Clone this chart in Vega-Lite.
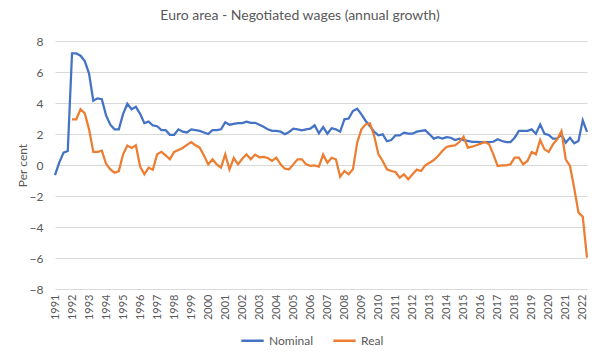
{
  "$schema": "https://vega.github.io/schema/vega-lite/v6.json",
  "width": 532,
  "height": 248,
  "autosize": {"type": "none"},
  "padding": {"left": 55, "top": 41, "right": 13, "bottom": 71},
  "background": "white",
  "config": {"view": {"stroke": null}, "font": "Lato"},
  "title": {"text": "Euro area - Negotiated wages (annual growth)", "fontSize": 14, "font": "Lato", "fontWeight": "normal", "color": "#595959", "anchor": "middle", "dx": -21, "offset": 12},
  "data": {"values": [
    {"t": 1991.00, "Nominal": -0.65},
    {"t": 1991.25, "Nominal": 0.15},
    {"t": 1991.50, "Nominal": 0.8},
    {"t": 1991.75, "Nominal": 0.9},
    {"t": 1992.00, "Nominal": 7.2, "Real": 2.95},
    {"t": 1992.25, "Nominal": 7.2, "Real": 2.95},
    {"t": 1992.50, "Nominal": 7.05, "Real": 3.6},
    {"t": 1992.75, "Nominal": 6.7, "Real": 3.33},
    {"t": 1993.00, "Nominal": 5.9, "Real": 2.3},
    {"t": 1993.25, "Nominal": 4.15, "Real": 0.84},
    {"t": 1993.50, "Nominal": 4.3, "Real": 0.84},
    {"t": 1993.75, "Nominal": 4.25, "Real": 0.93},
    {"t": 1994.00, "Nominal": 3.2, "Real": 0.08},
    {"t": 1994.25, "Nominal": 2.6, "Real": -0.28},
    {"t": 1994.50, "Nominal": 2.3, "Real": -0.5},
    {"t": 1994.75, "Nominal": 2.3, "Real": -0.39},
    {"t": 1995.00, "Nominal": 3.3, "Real": 0.69},
    {"t": 1995.25, "Nominal": 3.95, "Real": 1.25},
    {"t": 1995.50, "Nominal": 3.6, "Real": 1.1},
    {"t": 1995.75, "Nominal": 3.75, "Real": 1.27},
    {"t": 1996.00, "Nominal": 3.3, "Real": -0.1},
    {"t": 1996.25, "Nominal": 2.7, "Real": -0.6},
    {"t": 1996.50, "Nominal": 2.8, "Real": -0.17},
    {"t": 1996.75, "Nominal": 2.55, "Real": -0.3},
    {"t": 1997.00, "Nominal": 2.5, "Real": 0.7},
    {"t": 1997.25, "Nominal": 2.25, "Real": 0.85},
    {"t": 1997.50, "Nominal": 2.25, "Real": 0.62},
    {"t": 1997.75, "Nominal": 1.95, "Real": 0.37},
    {"t": 1998.00, "Nominal": 1.95, "Real": 0.84},
    {"t": 1998.25, "Nominal": 2.3, "Real": 0.97},
    {"t": 1998.50, "Nominal": 2.15, "Real": 1.1},
    {"t": 1998.75, "Nominal": 2.1, "Real": 1.3},
    {"t": 1999.00, "Nominal": 2.3, "Real": 1.48},
    {"t": 1999.25, "Nominal": 2.25, "Real": 1.27},
    {"t": 1999.50, "Nominal": 2.2, "Real": 1.12},
    {"t": 1999.75, "Nominal": 2.1, "Real": 0.62},
    {"t": 2000.00, "Nominal": 2.0, "Real": 0.04},
    {"t": 2000.25, "Nominal": 2.25, "Real": 0.37},
    {"t": 2000.50, "Nominal": 2.25, "Real": 0.04},
    {"t": 2000.75, "Nominal": 2.3, "Real": -0.17},
    {"t": 2001.00, "Nominal": 2.75, "Real": 0.69},
    {"t": 2001.25, "Nominal": 2.6, "Real": -0.28},
    {"t": 2001.50, "Nominal": 2.65, "Real": 0.45},
    {"t": 2001.75, "Nominal": 2.7, "Real": 0.04},
    {"t": 2002.00, "Nominal": 2.7, "Real": 0.4},
    {"t": 2002.25, "Nominal": 2.8, "Real": 0.69},
    {"t": 2002.50, "Nominal": 2.72, "Real": 0.37},
    {"t": 2002.75, "Nominal": 2.72, "Real": 0.67},
    {"t": 2003.00, "Nominal": 2.6, "Real": 0.5},
    {"t": 2003.25, "Nominal": 2.47, "Real": 0.52},
    {"t": 2003.50, "Nominal": 2.3, "Real": 0.45},
    {"t": 2003.75, "Nominal": 2.2, "Real": 0.26},
    {"t": 2004.00, "Nominal": 2.2, "Real": 0.47},
    {"t": 2004.25, "Nominal": 2.15, "Real": 0.04},
    {"t": 2004.50, "Nominal": 1.98, "Real": -0.24},
    {"t": 2004.75, "Nominal": 2.13, "Real": -0.28},
    {"t": 2005.00, "Nominal": 2.34, "Real": 0.04},
    {"t": 2005.25, "Nominal": 2.3, "Real": 0.37},
    {"t": 2005.50, "Nominal": 2.24, "Real": 0.37},
    {"t": 2005.75, "Nominal": 2.3, "Real": 0.04},
    {"t": 2006.00, "Nominal": 2.34, "Real": -0.06},
    {"t": 2006.25, "Nominal": 2.56, "Real": -0.02},
    {"t": 2006.50, "Nominal": 2.04, "Real": -0.11},
    {"t": 2006.75, "Nominal": 2.45, "Real": 0.67},
    {"t": 2007.00, "Nominal": 2.02, "Real": 0.15},
    {"t": 2007.25, "Nominal": 2.37, "Real": 0.47},
    {"t": 2007.50, "Nominal": 2.3, "Real": 0.37},
    {"t": 2007.75, "Nominal": 2.15, "Real": -0.75},
    {"t": 2008.00, "Nominal": 2.95, "Real": -0.39},
    {"t": 2008.25, "Nominal": 3.0, "Real": -0.6},
    {"t": 2008.50, "Nominal": 3.48, "Real": -0.28},
    {"t": 2008.75, "Nominal": 3.63, "Real": 1.44},
    {"t": 2009.00, "Nominal": 3.27, "Real": 2.3},
    {"t": 2009.25, "Nominal": 2.84, "Real": 2.62},
    {"t": 2009.50, "Nominal": 2.52, "Real": 2.69},
    {"t": 2009.75, "Nominal": 2.13, "Real": 1.87},
    {"t": 2010.00, "Nominal": 1.91, "Real": 0.69},
    {"t": 2010.25, "Nominal": 1.98, "Real": 0.26},
    {"t": 2010.50, "Nominal": 1.53, "Real": -0.28},
    {"t": 2010.75, "Nominal": 1.61, "Real": -0.39},
    {"t": 2011.00, "Nominal": 1.91, "Real": -0.45},
    {"t": 2011.25, "Nominal": 1.91, "Real": -0.82},
    {"t": 2011.50, "Nominal": 2.09, "Real": -0.6},
    {"t": 2011.75, "Nominal": 2.02, "Real": -0.92},
    {"t": 2012.00, "Nominal": 2.02, "Real": -0.6},
    {"t": 2012.25, "Nominal": 2.15, "Real": -0.3},
    {"t": 2012.50, "Nominal": 2.2, "Real": -0.39},
    {"t": 2012.75, "Nominal": 2.24, "Real": -0.02},
    {"t": 2013.00, "Nominal": 1.98, "Real": 0.15},
    {"t": 2013.25, "Nominal": 1.7, "Real": 0.32},
    {"t": 2013.50, "Nominal": 1.8, "Real": 0.58},
    {"t": 2013.75, "Nominal": 1.7, "Real": 0.9},
    {"t": 2014.00, "Nominal": 1.8, "Real": 1.16},
    {"t": 2014.25, "Nominal": 1.76, "Real": 1.23},
    {"t": 2014.50, "Nominal": 1.61, "Real": 1.27},
    {"t": 2014.75, "Nominal": 1.7, "Real": 1.48},
    {"t": 2015.00, "Nominal": 1.6, "Real": 1.83},
    {"t": 2015.25, "Nominal": 1.55, "Real": 1.12},
    {"t": 2015.50, "Nominal": 1.5, "Real": 1.18},
    {"t": 2015.75, "Nominal": 1.5, "Real": 1.27},
    {"t": 2016.00, "Nominal": 1.48, "Real": 1.38},
    {"t": 2016.25, "Nominal": 1.48, "Real": 1.48},
    {"t": 2016.50, "Nominal": 1.48, "Real": 1.33},
    {"t": 2016.75, "Nominal": 1.5, "Real": 0.69},
    {"t": 2017.00, "Nominal": 1.66, "Real": -0.06},
    {"t": 2017.25, "Nominal": 1.55, "Real": -0.02},
    {"t": 2017.50, "Nominal": 1.48, "Real": -0.02},
    {"t": 2017.75, "Nominal": 1.48, "Real": 0.04},
    {"t": 2018.00, "Nominal": 1.76, "Real": 0.47},
    {"t": 2018.25, "Nominal": 2.2, "Real": 0.47},
    {"t": 2018.50, "Nominal": 2.2, "Real": 0.04},
    {"t": 2018.75, "Nominal": 2.2, "Real": 0.26},
    {"t": 2019.00, "Nominal": 2.3, "Real": 0.84},
    {"t": 2019.25, "Nominal": 2.02, "Real": 0.69},
    {"t": 2019.50, "Nominal": 2.62, "Real": 1.61},
    {"t": 2019.75, "Nominal": 2.02, "Real": 1.01},
    {"t": 2020.00, "Nominal": 1.94, "Real": 0.84},
    {"t": 2020.25, "Nominal": 1.7, "Real": 1.33},
    {"t": 2020.50, "Nominal": 1.7, "Real": 1.66},
    {"t": 2020.75, "Nominal": 1.98, "Real": 2.19},
    {"t": 2021.00, "Nominal": 1.44, "Real": 0.37},
    {"t": 2021.25, "Nominal": 1.76, "Real": -0.06},
    {"t": 2021.50, "Nominal": 1.4, "Real": -1.5},
    {"t": 2021.75, "Nominal": 1.55, "Real": -3.07},
    {"t": 2022.00, "Nominal": 2.88, "Real": -3.33},
    {"t": 2022.25, "Nominal": 2.13, "Real": -5.98}
  ]},
  "transform": [
    {"fold": ["Nominal", "Real"], "as": ["series", "value"]},
    {"filter": "isValid(datum.value)"}
  ],
  "mark": {"type": "line", "strokeWidth": 2.25},
  "encoding": {
    "x": {
      "field": "t", "type": "quantitative",
      "scale": {"domain": [1991, 2022.25], "nice": false, "zero": false},
      "axis": {
        "values": [1991,1992,1993,1994,1995,1996,1997,1998,1999,2000,2001,2002,2003,2004,2005,2006,2007,2008,2009,2010,2011,2012,2013,2014,2015,2016,2017,2018,2019,2020,2021,2022],
        "format": "d", "labelAngle": -90, "grid": false, "ticks": false, "domain": false,
        "title": null, "labelFontSize": 11, "labelColor": "#595959", "labelPadding": 5,
        "labelFlush": false, "labelOverlap": false, "labelFont": "Lato"
      }
    },
    "y": {
      "field": "value", "type": "quantitative",
      "scale": {"domain": [-8, 8], "nice": false},
      "axis": {
        "values": [-8,-6,-4,-2,0,2,4,6,8],
        "title": "Per cent", "titleFontWeight": "normal", "titleFontSize": 12, "titleColor": "#595959",
        "titleFont": "Lato", "titlePadding": 0,
        "labelColor": "#595959", "labelFontSize": 12, "labelFont": "Lato", "labelPadding": 12,
        "ticks": false, "domain": false, "gridColor": "#d9d9d9", "gridWidth": 1
      }
    },
    "color": {
      "field": "series", "type": "nominal",
      "scale": {"domain": ["Nominal", "Real"], "range": ["#4472C4", "#ED7D31"]},
      "legend": {
        "orient": "none", "legendX": 185, "legendY": 287, "direction": "horizontal",
        "title": null, "symbolType": "stroke", "symbolStrokeWidth": 2.5, "symbolSize": 500,
        "labelFontSize": 12, "labelColor": "#595959", "labelFont": "Lato", "columnPadding": 14
      }
    }
  }
}
